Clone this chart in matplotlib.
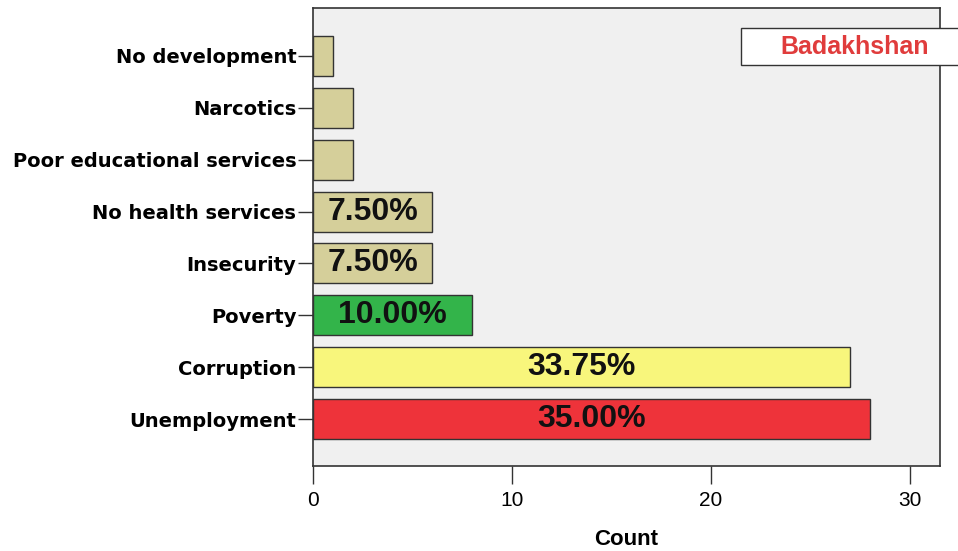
import matplotlib.pyplot as plt
from matplotlib.patches import Rectangle

categories = ["Unemployment", "Corruption", "Poverty", "Insecurity",
              "No health services", "Poor educational services",
              "Narcotics", "No development"]
counts = [28, 27, 8, 6, 6, 2, 2, 1]
labels = ["35.00%", "33.75%", "10.00%", "7.50%", "7.50%", "", "", ""]
colors = ["#ee333a", "#f8f67c", "#33b44a", "#d5cf9a", "#d5cf9a",
          "#d5cf9a", "#d5cf9a", "#d5cf9a"]

fig = plt.figure(figsize=(9.58, 5.51), dpi=100)
ax = fig.add_axes([0.3267, 0.1543, 0.9812 - 0.3267, 0.9855 - 0.1543])
ax.set_facecolor("#f0f0f0")

ypos = list(range(len(categories)))
ax.barh(ypos, counts, height=0.77, color=colors, edgecolor="#333333", linewidth=1)

for y, c, lab in zip(ypos, counts, labels):
    if lab:
        ax.text(c / 2, y, lab, ha="center", va="center", fontsize=23,
                fontweight="bold", family="Liberation Sans", color="#111111")

ax.set_xlim(0, 31.5)
ax.set_ylim(-0.905, 7.925)
ax.set_yticks(ypos)
ax.set_yticklabels(categories, fontsize=14, fontweight="bold", family="DejaVu Sans")
ax.set_xticks([0, 10, 20, 30])
ax.set_xticklabels(["0", "10", "20", "30"], fontsize=15, family="Liberation Sans")
ax.tick_params(axis="y", length=11, width=1, color="#333333", pad=1)
ax.tick_params(axis="x", length=13, width=1, color="#333333", pad=5)
for s in ax.spines.values():
    s.set_color("#333333")
    s.set_linewidth(1.2)
ax.set_xlabel("Count", fontsize=16, family="Liberation Sans", fontweight="bold", labelpad=14)

# legend-like box, runs off the right edge
box = Rectangle((741 / 958, 1 - 65 / 551), 0.3, 37 / 551, transform=fig.transFigure,
                facecolor="white", edgecolor="#333333", linewidth=1, clip_on=False)
fig.patches.append(box)
fig.text(855 / 958, 1 - 47 / 551, "Badakhshan", ha="center", va="center",
         fontsize=18, fontweight="bold", family="Liberation Sans", color="#e03c3c")

fig.savefig("out.png", dpi=100)
